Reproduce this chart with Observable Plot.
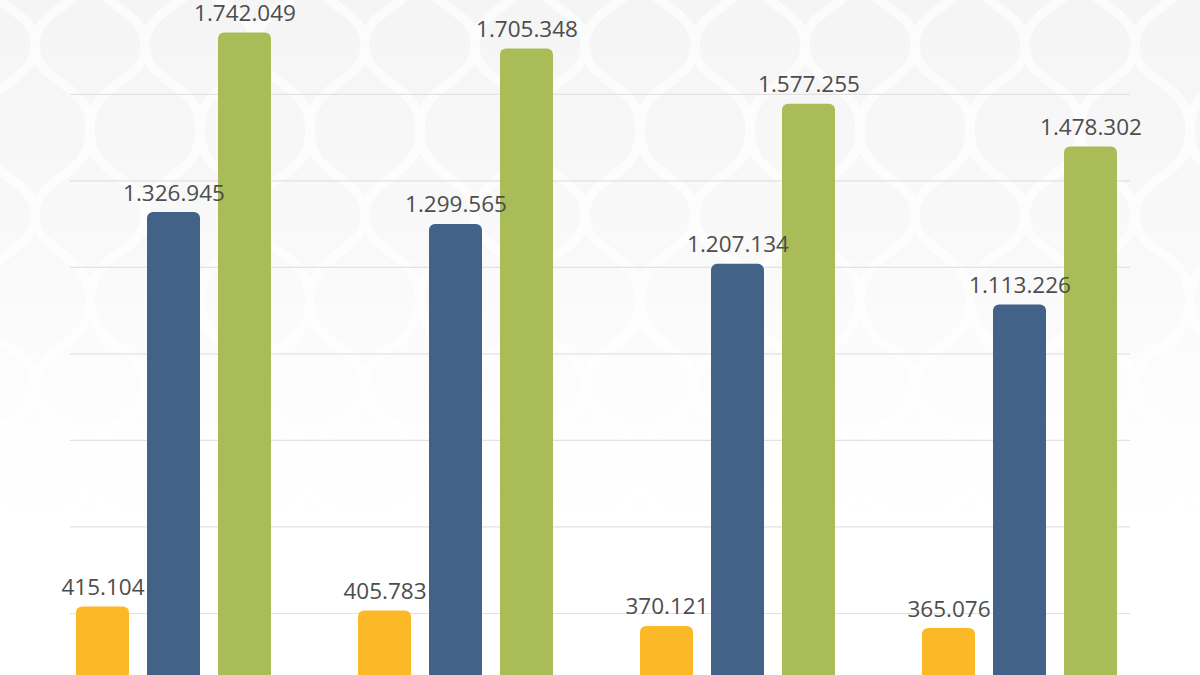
<!DOCTYPE html>
<html>
<head>
<meta charset="utf-8">
<script src="https://cdn.jsdelivr.net/npm/d3@7"></script>
<script src="https://cdn.jsdelivr.net/npm/@observablehq/plot@0.6"></script>
<style>
  html, body { margin: 0; padding: 0; background: #fff; }
  #wrap { width: 1200px; height: 675px; position: relative; overflow: hidden; }
  #wrap svg { background: transparent !important; display: block; position: absolute; left: 0; top: 0; }
</style>
</head>
<body>
<div id="wrap"></div>
<script>
// ---- data ----
const groups = ["Grupo 1", "Grupo 2", "Grupo 3", "Grupo 4"];
const series = ["Serie A", "Serie B", "Serie C"];
const serieA = [415104, 405783, 370121, 365076];
const serieB = [1326945, 1299565, 1207134, 1113226];
const serieC = [1742049, 1705348, 1577255, 1478302];
const gridTicks = [400000, 600000, 800000, 1000000, 1200000, 1400000, 1600000];
const colors = ["#FBB827", "#426387", "#AABC57"];

const table = [];
groups.forEach((g, i) => {
  table.push({group: g, serie: series[0], value: serieA[i]});
  table.push({group: g, serie: series[1], value: serieB[i]});
  table.push({group: g, serie: series[2], value: serieC[i]});
});

const yDomain = [256600, 1817200];

// ---- background pattern (decoration) ----
const tile = `<svg xmlns='http://www.w3.org/2000/svg' width='110' height='170'><path d='M0,0 C0,50 55,45 55,85 C55,125 0,120 0,170 M110,0 C110,50 55,45 55,85 C55,125 110,120 110,170' fill='none' stroke='#ffffff' stroke-width='9' stroke-opacity='0.75'/></svg>`;
const wrap = document.getElementById("wrap");
wrap.style.background =
  "linear-gradient(to bottom, rgba(255,255,255,0) 0px, rgba(255,255,255,0.35) 220px, rgba(255,255,255,0.85) 420px, #fff 520px), " +
  "url(\"data:image/svg+xml," + encodeURIComponent(tile) + "\") -20px -40px / 110px 170px repeat, #f5f5f5";

const fmt = v => v.toLocaleString("de-DE");

// ---- gridlines layer ----
const grid = Plot.plot({
  width: 1200,
  height: 675,
  marginTop: 0, marginBottom: 0, marginLeft: 70, marginRight: 70,
  style: {background: "transparent"},
  y: {axis: null, domain: yDomain},
  marks: [
    Plot.ruleY(gridTicks, {stroke: "#e2e2e2", strokeWidth: 1.2})
  ]
});
wrap.appendChild(grid);

// ---- bars layer ----
const chart = Plot.plot({
  width: 1200,
  height: 675,
  marginTop: 0,
  marginBottom: 0,
  marginLeft: 66,
  marginRight: 74,
  style: {background: "transparent", overflow: "hidden"},
  fx: {axis: null, domain: groups, paddingInner: 0.245, paddingOuter: 0},
  x: {axis: null, domain: series, paddingInner: 0.25, paddingOuter: 0.105},
  y: {axis: null, domain: yDomain},
  color: {domain: series, range: colors},
  marks: [
    Plot.barY(table, {fx: "group", x: "serie", y: "value", fill: "serie", rx: 6, clip: true}),
    Plot.text(table, {
      fx: "group", x: "serie", y: "value",
      text: d => fmt(d.value),
      lineAnchor: "bottom", dy: -12,
      fontSize: 22.5, fill: "#4d4d4d", fontWeight: 400,
      fontFamily: "'Open Sans', sans-serif"
    })
  ]
});
wrap.appendChild(chart);
</script>
</body>
</html>
